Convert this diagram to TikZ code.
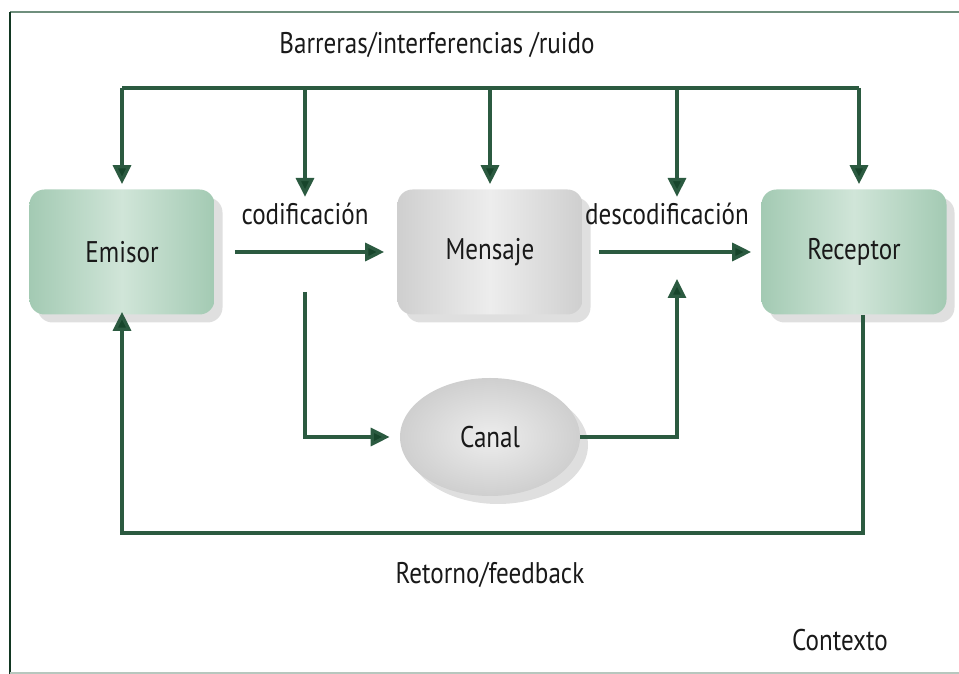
\documentclass[tikz,border=0pt]{standalone}
\usepackage{fontspec}
\setmainfont{PT Sans}[FakeStretch=0.84]
\usetikzlibrary{arrows.meta,shapes.geometric,shadows,positioning}

\definecolor{verdelinea}{HTML}{2B5A40}
\definecolor{verdeflecha}{HTML}{17452B}
\definecolor{verdecaja}{HTML}{A3CAB3}
\definecolor{verdeclaro}{HTML}{D0E5D8}
\definecolor{griscaja}{HTML}{CFCFCF}
\definecolor{grisclaro}{HTML}{EDEDED}
\definecolor{marco}{HTML}{6F8F7D}

\tikzset{
  texto/.style={font=\fontsize{17}{20}\selectfont, text=black!90},
  caja/.style={texto, rounded corners=3mm, minimum width=37mm, minimum height=25mm,
    drop shadow={shadow xshift=1.6mm, shadow yshift=-1.6mm, opacity=0.25}},
  cajaverde/.style={caja, left color=verdecaja, right color=verdecaja, middle color=verdeclaro},
  cajagris/.style={caja, left color=griscaja, right color=griscaja, middle color=grisclaro},
  linea/.style={draw=verdelinea, line width=1.9pt},
  flecha/.style={linea, -{Triangle[length=3.8mm, width=3.6mm, fill=verdeflecha]}},
}

\begin{document}
\begin{tikzpicture}[x=0.2mm, y=-0.2mm]
\useasboundingbox (0,0) rectangle (959,674);
% marco del contexto
\draw[marco, line width=1.2pt] (959,12) -- (10,12);
\draw[verdeflecha!80!black, line width=1.6pt] (10,12) -- (10,674);
\draw[marco!50, line width=0.8pt] (10,673) -- (959,673);

% cajas
\node[cajaverde] (emisor) at (122,252) {Emisor};
\node[cajagris] (mensaje) at (490,252) {Mensaje};
\node[cajaverde] (receptor) at (854,252) {Receptor};
\node[texto, ellipse, minimum width=36mm, minimum height=23.6mm, inner color=grisclaro,
  outer color=griscaja, drop shadow={shadow xshift=1.6mm, shadow yshift=-1.6mm, opacity=0.25}]
  (canal) at (490,437) {Canal};

% textos
\node[texto] (barreras) at (437,45) {Barreras/interferencias /ruido};
\node[texto] (codif) at (305,214) {codificación};
\node[texto] (descodif) at (667,214) {descodificación};
\node[texto] (retorno) at (490,575) {Retorno/feedback};
\node[texto] (contexto) at (840,640) {Contexto};

\coordinate (bus) at (0,88);
\coordinate (salida) at (305,292);
\coordinate (subida) at (677,279);
\coordinate (vuelta) at (0,533);

% barreras
\draw[linea] (emisor.north |- bus) -- ([xshift=1mm]receptor.north |- bus);
\draw[flecha, shorten >=1mm] (emisor.north |- bus) -- (emisor.north);
\draw[flecha] (codif.north |- bus) -- (codif.north);
\draw[flecha, shorten >=1mm] (mensaje.north |- bus) -- (mensaje.north);
\draw[flecha] (subida |- bus) -- (subida |- codif.north);
\draw[flecha, shorten >=1mm] ([xshift=1mm]receptor.north |- bus) -- ([xshift=1mm]receptor.north);

% flujo principal
\draw[flecha, shorten <=4mm, shorten >=2.6mm] (emisor.east) -- (mensaje.west);
\draw[flecha, shorten <=3.2mm, shorten >=2mm] (mensaje.east) -- (receptor.west);
\draw[flecha, shorten >=2mm] (salida) |- (canal.west);
\draw[flecha] (canal.east) -| (subida);

% retorno
\draw[flecha, shorten >=-0.6mm] ([xshift=1.8mm]receptor.south) |- (emisor.south |- vuelta) -- (emisor.south);
\end{tikzpicture}
\end{document}
